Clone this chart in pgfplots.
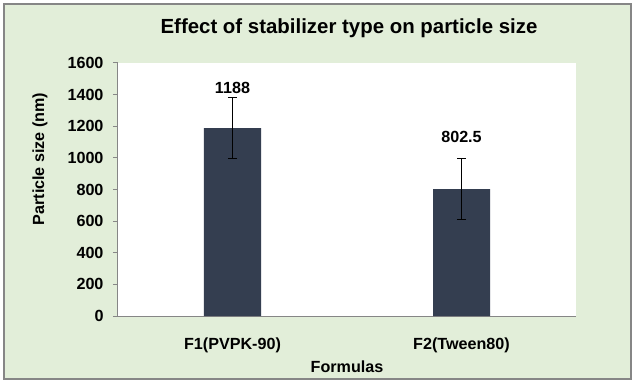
\documentclass[border=0pt]{standalone}
\usepackage{pgfplots}
\pgfplotsset{compat=1.18}
\usepackage{fontspec}
\setmainfont{Liberation Sans}
\definecolor{bgGreen}{RGB}{226,238,217}
\definecolor{barCol}{RGB}{52,62,80}
\definecolor{axGray}{RGB}{134,134,134}
\newcommand{\lblfont}{\bfseries\fontsize{16.2}{18}\selectfont}
\begin{document}
\begin{tikzpicture}
\fill[white] (-118bp,-68bp) rectangle (518bp,316bp);
\draw[axGray, fill=bgGreen, line width=1.5bp] (-114bp,-63bp) rectangle (513bp,312bp);
\begin{axis}[
  at={(0,0)}, anchor=south west,
  scale only axis, width=458bp, height=253bp,
  axis background/.style={fill=white},
  axis x line*=bottom, axis y line*=left,
  axis line style={axGray, line width=1bp},
  xmin=-0.5, xmax=1.5, ymin=0, ymax=1600,
  xtick={0,1}, xticklabels={F1(PVPK-90), F2(Tween80)},
  ytick={0,200,...,1600},
  major x tick style={draw=none},
  major y tick style={axGray, line width=1bp},
  tick align=outside, major tick length=5bp,
  /pgf/number format/assume math mode=true,
  /pgf/number format/1000 sep={},
  ticklabel style={font=\lblfont},
  yticklabel style={xshift=-6bp},
  xticklabel style={yshift=-13bp},
  clip=false,
]
\addplot[ybar, bar width=57bp, bar shift=0pt, fill=barCol, draw=none,
  error bars/.cd, y dir=both, y explicit,
  error mark=-,
  error bar style={black, line width=1bp},
  error mark options={rotate=90, black, line width=1bp, mark size=4.5bp}]
  coordinates {(0,1188) +- (0,192) (1,802.5) +- (0,193)};
\addplot[draw=none, mark=none, nodes near coords, point meta=explicit symbolic,
  nodes near coords align={center},
  every node near coord/.append style={font=\lblfont, anchor=center}]
  coordinates {(0,1441)[1188] (1,1133)[802.5]};
\end{axis}
\node[font=\bfseries\fontsize{20.5}{23}\selectfont] at (231bp,288bp) {Effect of stabilizer type on particle size};
\node[font=\lblfont, rotate=90] at (-78bp,157bp) {Particle size (nm)};
\node[font=\lblfont] at (229bp,-51bp) {Formulas};
\end{tikzpicture}
\end{document}
